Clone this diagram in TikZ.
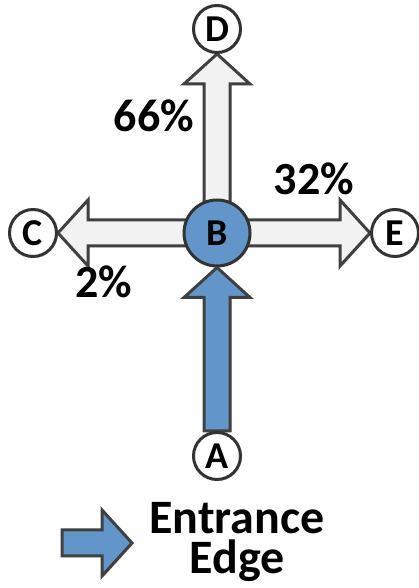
\documentclass[tikz,border=0pt]{standalone}
\usepackage{fontspec}
\setmainfont{Carlito}
\usetikzlibrary{calc, backgrounds, shadows}
\definecolor{entryblue}{RGB}{98,149,201}
\tikzstyle{place} = [circle, draw=black!80, line width=3pt, fill=white, minimum size=47pt, inner sep=0pt, font=\bfseries\fontsize{38}{38}\selectfont, drop shadow={opacity=0.2, shadow xshift=1.5pt, shadow yshift=-1.5pt}]
\tikzstyle{hub} = [place, fill=entryblue, minimum size=66pt]
\tikzstyle{turn} = [draw=black!75, line width=3pt, line join=miter, fill=black!5, drop shadow={opacity=0.2, shadow xshift=1.5pt, shadow yshift=-1.5pt}]
\tikzstyle{entry} = [turn, fill=entryblue]
\tikzstyle{share} = [font=\bfseries\fontsize{46}{46}\selectfont]
% block arrow from #2 to the tip #3
\newcommand{\fatarrow}[3][turn]{%
  \coordinate (hb) at ($(#3)!30pt!(#2)$);
  \path[#1] ($(#2)!13pt!90:(#3)$) -- ($(hb)!13pt!90:(#3)$) -- ($(hb)!33pt!90:(#3)$)
    -- (#3) -- ($(hb)!33pt!-90:(#3)$) -- ($(hb)!13pt!-90:(#3)$) -- ($(#2)!13pt!-90:(#3)$) -- cycle;
}

\begin{document}
\begin{tikzpicture}[x=1pt, y=1pt, node distance=204pt]
\useasboundingbox (0,0) rectangle (418,588);
\node (B) [hub] at (217,355) {B};
\node (D) [place, above of=B] {D};
\node (C) [place, left of=B, node distance=184pt] {C};
\node (E) [place, right of=B, node distance=178pt] {E};
\node (A) [place, below of=B, node distance=223pt] {A};
\node (up) [share] at (154,472) {66\%};
\node (right) [share] at (314,409) {32\%};
\node (left) [share] at (104,306) {2\%};
% legend
\coordinate (key tail) at (62,45);
\coordinate (key tip) at (132,45);
\node (key) [align=center, font=\bfseries\fontsize{48}{40}\selectfont] at (237,46) {Entrance\\Edge};
\begin{pgfonlayer}{background}
\fatarrow{B.center}{D.south}
\fatarrow{B.center}{C.east}
\fatarrow{B.center}{E.west}
\fatarrow[entry]{A.north}{B.south}
\fatarrow[entry]{key tail}{key tip}
\end{pgfonlayer}
\end{tikzpicture}
\end{document}
